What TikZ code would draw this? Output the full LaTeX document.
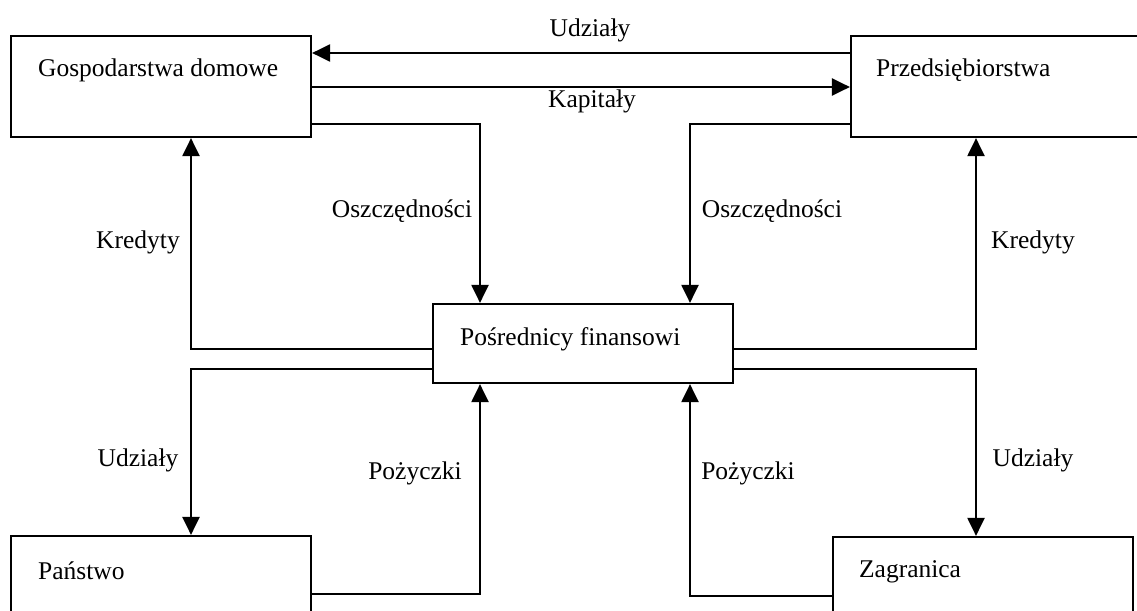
\documentclass[tikz,border=0pt]{standalone}
\usepackage{fontspec}
\setmainfont{Liberation Serif}
\usetikzlibrary{arrows.meta}
\begin{document}
\begin{tikzpicture}[x=1pt,y=-1pt,
  line width=2.2pt,
  box/.style={draw, rectangle, inner sep=0pt},
  lbl/.style={inner sep=0pt, anchor=west, font=\fontsize{25.5}{28}\selectfont},
  arr/.style={-{Triangle[length=18pt,width=17pt]}}]
\useasboundingbox (0,0) rectangle (1137,610);
\clip (0,0) rectangle (1137,610);

% sectors
\node[box, minimum width=300pt, minimum height=101pt] (GD) at (161,86.5) {};
\node[box, minimum width=289pt, minimum height=101pt] (PR) at (995.5,86.5) {};
\node[box, minimum width=300pt, minimum height=79pt]  (PF) at (583,343.5) {};
\node[box, minimum width=300pt, minimum height=114pt] (PA) at (161,593) {};
\node[box, minimum width=300pt, minimum height=114pt] (ZA) at (983,594) {};

\node[lbl] (tGD) at (37,70) {Gospodarstwa domowe};
\node[lbl] (tPR) at (875,70) {Przedsiębiorstwa};
\node[lbl] (tPF) at (459,339) {Pośrednicy finansowi};
\node[lbl] (tPA) at (37,571) {Państwo};
\node[lbl] (tZA) at (858,572) {Zagranica};

% flows between households and firms
\draw[arr] (PR.west |- 0,53) -- (GD.east |- 0,53);
\draw[arr] (GD.east |- 0,87) -- (PR.west |- 0,87);
\node[lbl, anchor=center] (lU1) at (590,30) {Udziały};
\node[lbl, anchor=center] (lK0) at (592,101) {Kapitały};

% savings into intermediaries
\draw[arr] (GD.east |- 0,124) -| (480,0 |- PF.north);
\draw[arr] (PR.west |- 0,124) -| (690,0 |- PF.north);
\node[lbl, anchor=center] (lO1) at (402,211) {Oszczędności};
\node[lbl, anchor=center] (lO2) at (772,211) {Oszczędności};

% credits back to households and firms
\draw[arr] (PF.west |- 0,349) -| (191,0 |- GD.south);
\draw[arr] (PF.east |- 0,349) -| (976,0 |- PR.south);
\node[lbl, anchor=center] (lK1) at (138,242) {Kredyty};
\node[lbl, anchor=center] (lK2) at (1033,242) {Kredyty};

% shares to state and abroad
\draw[arr] (PF.west |- 0,369) -| (191,0 |- PA.north);
\draw[arr] (PF.east |- 0,369) -| (976,0 |- ZA.north);
\node[lbl, anchor=center] (lU2) at (138,460) {Udziały};
\node[lbl, anchor=center] (lU3) at (1033,460) {Udziały};

% loans into intermediaries
\draw[arr] (PA.east |- 0,594) -| (480,0 |- PF.south);
\draw[arr] (ZA.west |- 0,596) -| (690,0 |- PF.south);
\node[lbl, anchor=center] (lP1) at (415,473) {Pożyczki};
\node[lbl, anchor=center] (lP2) at (748,473) {Pożyczki};
\end{tikzpicture}
\end{document}
